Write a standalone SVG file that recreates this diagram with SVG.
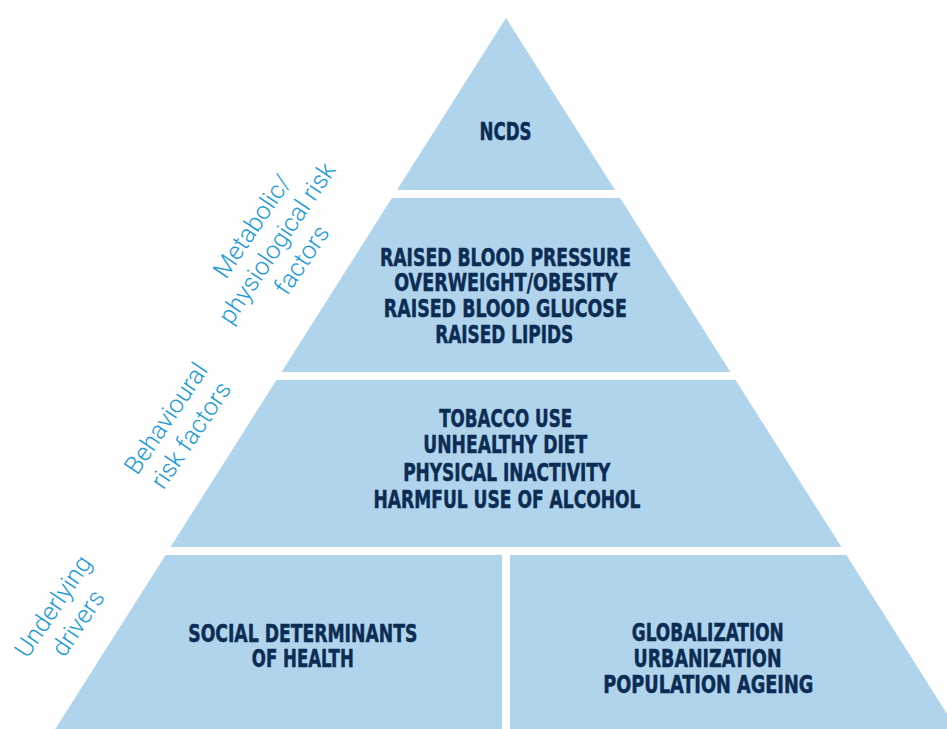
<svg xmlns="http://www.w3.org/2000/svg" width="947" height="729" viewBox="0 0 947 729">
  <style>
    .tier { fill: #afd4ec; }
    .item { font-family: "Liberation Sans Narrow", "DejaVu Sans Condensed", "Liberation Sans", sans-serif; font-weight: bold; font-size: 25px; fill: #0c2c54; stroke: #0c2c54; stroke-width: 0.5; text-anchor: middle; }
    .side { font-family: Roboto, "Liberation Sans", sans-serif; font-weight: 300; font-size: 25px; fill: #1b9ad7; text-anchor: middle; }
  </style>
  <rect width="947" height="729" fill="#ffffff"/>

  <!-- top: NCDs -->
  <g id="ncds">
    <polygon class="tier" points="506,18 615,190 397,190"/>
    <text class="item" x="505.5" y="140" textLength="52" lengthAdjust="spacingAndGlyphs">NCDS</text>
  </g>

  <!-- metabolic / physiological risk factors -->
  <g id="metabolic">
    <polygon class="tier" points="391.9,198 620.1,198 730.4,372 281.6,372"/>
    <text class="item" x="505.5" y="265.7" textLength="251" lengthAdjust="spacingAndGlyphs">RAISED BLOOD PRESSURE</text>
    <text class="item" x="505.7" y="291" textLength="223" lengthAdjust="spacingAndGlyphs">OVERWEIGHT/OBESITY</text>
    <text class="item" x="505.3" y="316.7" textLength="243" lengthAdjust="spacingAndGlyphs">RAISED BLOOD GLUCOSE</text>
    <text class="item" x="504.2" y="342.7" textLength="138" lengthAdjust="spacingAndGlyphs">RAISED LIPIDS</text>
  </g>

  <!-- behavioural risk factors -->
  <g id="behavioural">
    <polygon class="tier" points="276.5,380 735.5,380 841.4,547 170.6,547"/>
    <text class="item" x="505.7" y="427.3" textLength="133" lengthAdjust="spacingAndGlyphs">TOBACCO USE</text>
    <text class="item" x="505.3" y="453.3" textLength="164" lengthAdjust="spacingAndGlyphs">UNHEALTHY DIET</text>
    <text class="item" x="506.7" y="480.7" textLength="207" lengthAdjust="spacingAndGlyphs">PHYSICAL INACTIVITY</text>
    <text class="item" x="507" y="508.3" textLength="267" lengthAdjust="spacingAndGlyphs">HARMFUL USE OF ALCOHOL</text>
  </g>

  <!-- underlying drivers, left block -->
  <g id="social">
    <polygon class="tier" points="165.6,555 502,555 502,740 48.3,740"/>
    <text class="item" x="302.8" y="641.7" textLength="229" lengthAdjust="spacingAndGlyphs">SOCIAL DETERMINANTS</text>
    <text class="item" x="302.8" y="666.7" textLength="102" lengthAdjust="spacingAndGlyphs">OF HEALTH</text>
  </g>

  <!-- underlying drivers, right block -->
  <g id="drivers">
    <polygon class="tier" points="510,555 846.4,555 963.7,740 510,740"/>
    <text class="item" x="707.8" y="640.7" textLength="152" lengthAdjust="spacingAndGlyphs">GLOBALIZATION</text>
    <text class="item" x="707.5" y="666.7" textLength="148" lengthAdjust="spacingAndGlyphs">URBANIZATION</text>
    <text class="item" x="708.3" y="693.3" textLength="210" lengthAdjust="spacingAndGlyphs">POPULATION AGEING</text>
  </g>

  <!-- tier captions along the left slope -->
  <g id="label-metabolic" transform="translate(259,231) rotate(-56)">
    <text class="side" x="0" y="0">Metabolic/</text>
    <text class="side" x="0" y="30">physiological risk</text>
    <text class="side" x="0" y="60">factors</text>
  </g>
  <g id="label-behavioural" transform="translate(173,423) rotate(-56)">
    <text class="side" x="0" y="0">Behavioural</text>
    <text class="side" x="0" y="30">risk factors</text>
  </g>
  <g id="label-underlying" transform="translate(60,611) rotate(-56)">
    <text class="side" x="0" y="0">Underlying</text>
    <text class="side" x="0" y="30">drivers</text>
  </g>
</svg>
